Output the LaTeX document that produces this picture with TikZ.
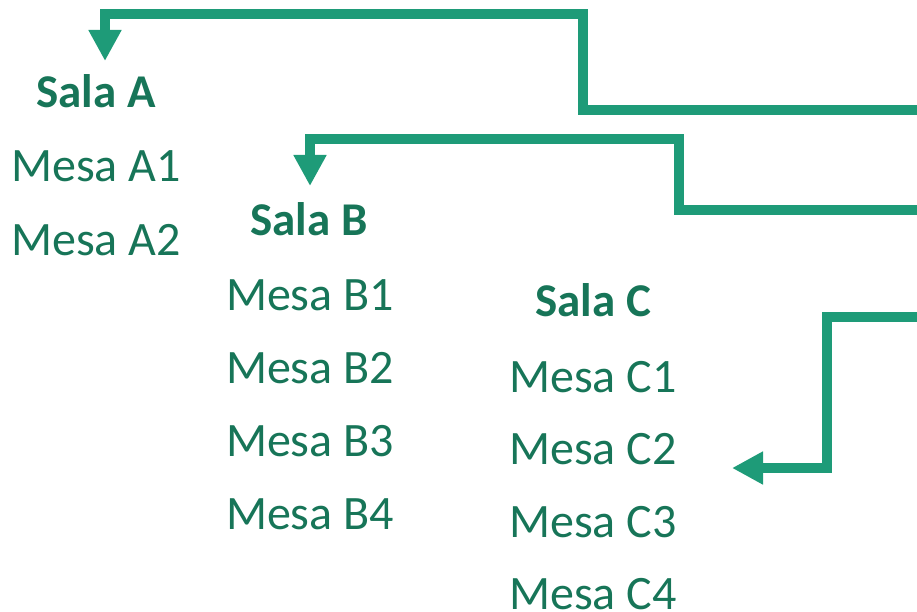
\documentclass[tikz,border=0pt]{standalone}
\usepackage{fontspec}
\setmainfont{Carlito}
\usetikzlibrary{arrows.meta}
\definecolor{txtgreen}{RGB}{23,117,88}
\definecolor{linegreen}{RGB}{30,155,120}
\begin{document}
\begin{tikzpicture}[x=1pt,y=-1pt,
  sala/.style={anchor=base,inner sep=0pt,text=txtgreen,font=\fontsize{47}{54}\selectfont\bfseries},
  mesa/.style={anchor=base,inner sep=0pt,text=txtgreen,font=\fontsize{48}{55}\selectfont},
  conn/.style={draw=linegreen,line width=10.5pt,line join=miter,-{Triangle[width=31pt,length=31pt]}}]
\useasboundingbox (0,0) rectangle (917,612);
% texts
\node[sala] (sa) at (96,108) {Sala A};
\node[mesa] (a1) at (96,182) {Mesa A1};
\node[mesa] (a2) at (96,255) {Mesa A2};
\node[sala] (sb) at (309,235) {Sala B};
\node[mesa] (b1) at (310,310) {Mesa B1};
\node[mesa] (b2) at (310,383) {Mesa B2};
\node[mesa] (b3) at (310,456) {Mesa B3};
\node[mesa] (b4) at (310,529) {Mesa B4};
\node[sala] (sc) at (593,316) {Sala C};
\node[mesa] (c1) at (593,392) {Mesa C1};
\node[mesa] (c2) at (593,464) {Mesa C2};
\node[mesa] (c3) at (593,537) {Mesa C3};
\node[mesa] (c4) at (593,609) {Mesa C4};
% connector ends
\coordinate (ea) at (930,110);
\coordinate (ta) at (105,61);
\coordinate (eb) at (930,210);
\coordinate (tb) at (310,186);
\coordinate (ec) at (930,317);
\coordinate (tc) at (732,468);
% connectors
\draw[conn] (ea) -- (583,110) -- (583,14) -| (ta);
\draw[conn] (eb) -- (679,210) -- (679,139) -| (tb);
\draw[conn] (ec) -- (827,317) |- (tc);
\end{tikzpicture}
\end{document}
